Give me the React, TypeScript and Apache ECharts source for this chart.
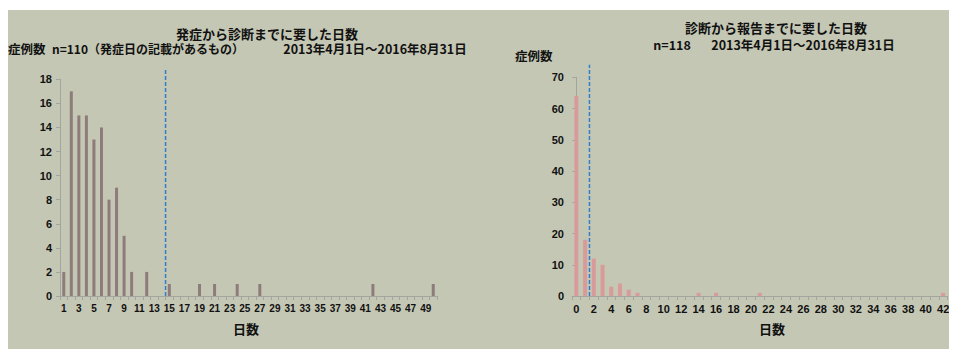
import React, { useEffect, useRef } from "react";
import * as echarts from "echarts";

// Left chart: 発症から診断までに要した日数
const leftCategories = [
  "1","2","3","4","5","6","7","8","9","10",
  "11","12","13","14","15","16","17","18","19","20",
  "21","22","23","24","25","26","27","28","29","30",
  "31","32","33","34","35","36","37","38","39","40",
  "41","42","43","44","45","46","47","48","49","50",
];
const leftValues = [
  2, 17, 15, 15, 13, 14, 8, 9, 5, 2,
  0, 2, 0, 0, 1, 0, 0, 0, 1, 0,
  1, 0, 0, 1, 0, 0, 1, 0, 0, 0,
  0, 0, 0, 0, 0, 0, 0, 0, 0, 0,
  0, 1, 0, 0, 0, 0, 0, 0, 0, 1,
];
const leftMarkerDay = 14.5;
const leftMarkerTop = 18.77;

// Right chart: 診断から報告までに要した日数
const rightCategories = [
  "0","1","2","3","4","5","6","7","8","9","10",
  "11","12","13","14","15","16","17","18","19","20",
  "21","22","23","24","25","26","27","28","29","30",
  "31","32","33","34","35","36","37","38","39","40",
  "41","42",
];
const rightValues = [
  64, 18, 12, 10, 3, 4, 2, 1, 0, 0, 0,
  0, 0, 0, 1, 0, 1, 0, 0, 0, 0,
  1, 0, 0, 0, 0, 0, 0, 0, 0, 0,
  0, 0, 0, 0, 0, 0, 0, 0, 0, 0,
  0, 1,
];
const rightMarkerDay = 1.5;
const rightMarkerTop = 74;

const leftTitle = "発症から診断までに要した日数";
const leftSubA = "n=110（発症日の記載があるもの）";
const leftSubB = "2013年4月1日～2016年8月31日";
const rightTitle = "診断から報告までに要した日数";
const rightSubA = "n=118";
const rightSubB = "2013年4月1日～2016年8月31日";
const yName = "症例数";
const xName = "日数";

const BG = "#C4C7B4";
const AXIS = "#A3A5A0";
const TEXT = "#111111";
const DASH = "#2F7DD0";
const JP = "'Noto Sans CJK JP', sans-serif";
const NUM = "'Liberation Sans', Arial, sans-serif";

export default function App() {
  const ref = useRef<HTMLDivElement>(null);
  useEffect(() => {
    if (!ref.current) return;
    const chart = echarts.init(ref.current, undefined, { renderer: "svg" });
    const txt = (x: number, y: number, text: string, size: number, align = "center") => ({
      type: "text",
      x,
      y,
      style: {
        text,
        fill: TEXT,
        font: `bold ${size}px ${JP}`,
        textAlign: align,
        textVerticalAlign: "middle",
      },
    });
    const catAxis = (gridIndex: number, data: string[], size: number) => ({
      type: "category",
      gridIndex,
      data,
      boundaryGap: true,
      axisLine: { lineStyle: { color: AXIS, width: 1 } },
      axisTick: { show: true, interval: 0, length: 4, lineStyle: { color: AXIS } },
      axisLabel: {
        interval: 1,
        margin: 7,
        color: TEXT,
        fontSize: size,
        fontWeight: "bold",
        fontFamily: NUM,
      },
      splitLine: { show: false },
    });
    const valAxis = (gridIndex: number, max: number, interval: number) => ({
      type: "value",
      gridIndex,
      min: 0,
      max,
      interval,
      axisLine: { show: true, lineStyle: { color: AXIS, width: 1 } },
      axisTick: { show: true, length: 4, lineStyle: { color: AXIS } },
      axisLabel: {
        margin: 8,
        color: TEXT,
        fontSize: 11,
        fontWeight: "bold",
        fontFamily: NUM,
      },
      splitLine: { show: false },
    });
    chart.setOption({
      animation: false,
      backgroundColor: BG,
      grid: [
        { left: 52, top: 69.3, width: 377, height: 216.7 },
        { left: 564, top: 67.3, width: 375.5, height: 218.7 },
      ],
      xAxis: [
        catAxis(0, leftCategories, 10),
        catAxis(1, rightCategories, 11),
        { type: "value", gridIndex: 0, min: 0.5, max: 50.5, show: false },
        { type: "value", gridIndex: 1, min: -0.5, max: 42.5, show: false },
      ],
      yAxis: [valAxis(0, 18, 2), valAxis(1, 70, 10)],
      series: [
        {
          type: "bar",
          xAxisIndex: 0,
          yAxisIndex: 0,
          data: leftValues,
          barWidth: 3,
          itemStyle: { color: "#8E7C7B" },
        },
        {
          type: "bar",
          xAxisIndex: 1,
          yAxisIndex: 1,
          data: rightValues,
          barWidth: 4,
          itemStyle: { color: "#D99B99" },
        },
        {
          type: "line",
          xAxisIndex: 2,
          yAxisIndex: 0,
          clip: false,
          symbol: "none",
          data: [
            [leftMarkerDay, 0],
            [leftMarkerDay, leftMarkerTop],
          ],
          lineStyle: { color: DASH, width: 1.5, type: [4, 2] },
        },
        {
          type: "line",
          xAxisIndex: 3,
          yAxisIndex: 1,
          clip: false,
          symbol: "none",
          data: [
            [rightMarkerDay, 0],
            [rightMarkerDay, rightMarkerTop],
          ],
          lineStyle: { color: DASH, width: 1.5, type: [4, 2] },
        },
      ],
      graphic: [
        txt(259, 23, leftTitle, 13),
        txt(140, 38, leftSubA, 12),
        txt(367, 38, leftSubB, 12.5),
        txt(0, 38, yName, 12.5, "left"),
        txt(238, 318, xName, 13),
        txt(768, 17, rightTitle, 13),
        txt(664, 34, rightSubA, 12.5),
        txt(795, 34, rightSubB, 12.5),
        txt(507, 45, yName, 12.5, "left"),
        txt(764, 318, xName, 13),
      ],
    });
    return () => chart.dispose();
  }, []);
  return (
    <div
      ref={ref}
      style={{ width: 949, height: 339, marginTop: 2 }}
    />
  );
}
